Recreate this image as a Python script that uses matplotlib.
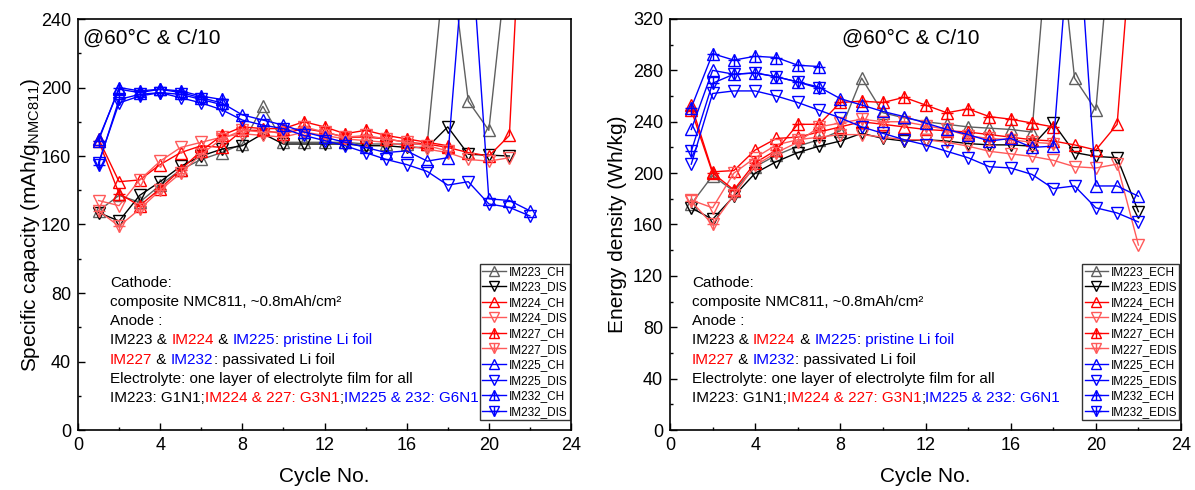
import matplotlib
matplotlib.use('Agg')
import matplotlib.pyplot as plt
from matplotlib.ticker import MultipleLocator

plt.rcParams['font.family'] = ['Liberation Sans', 'DejaVu Sans']
plt.rcParams['mathtext.fontset'] = 'custom'
plt.rcParams['mathtext.rm'] = 'Liberation Sans'
plt.rcParams['mathtext.it'] = 'Liberation Sans:italic'

# ---- data: left panel, specific capacity (mAh/g) ----
cyc_223 = list(range(1, 22))
cyc_224_ch = list(range(1, 23))
cyc_224_dis = list(range(1, 22))
cyc_227 = list(range(1, 19))
cyc_225 = list(range(1, 23))
cyc_232 = list(range(1, 8))

cap_223_ch = [128, 137, 133, 143, 152, 158, 162, 167, 189, 168, 168, 168, 168, 167, 167, 167, 167, 290, 192, 175, 286]
cap_223_dis = [127, 122, 137, 145, 154, 160, 164, 166, 173, 167, 167, 167, 167, 166, 166, 165, 165, 177, 161, 160.5, 160]
cap_224_ch = [170, 145, 146, 155, 162, 166, 165, 175, 175, 173, 176, 174, 171, 171, 170, 168, 167, 165, 162, 160, 172, 410]
cap_224_dis = [134, 131, 146, 157, 165, 168, 171, 173, 172, 171, 174, 172, 170, 169, 168, 166, 164, 162, 158, 157, 159]
cap_227_ch = [169, 138, 131, 141, 152, 163, 172, 177, 176, 176, 180, 177, 173, 175, 172, 170, 168, 166]
cap_227_dis = [128, 119, 129, 140, 150, 161, 170, 175, 174, 174, 177, 174, 171, 172, 170, 168, 166, 163]
cap_225_ch = [170, 199, 197, 199, 197, 194, 191, 184, 181, 178, 174, 171, 168, 165, 162, 163, 157, 159, 308, 135, 134, 128]
cap_225_dis = [156, 191, 195, 197, 194, 191, 187, 181, 178, 176, 172, 169, 166, 162, 158, 155, 151, 143, 145, 132, 130, 125]
cap_232_ch = [169, 200, 198, 199, 198, 195, 193]
cap_232_dis = [155, 193, 196, 197, 196, 193, 190]

# ---- data: right panel, energy density (Wh/kg) ----
cyc_223_ech = list(range(1, 22))
cyc_223_edis = list(range(1, 23))
cyc_224 = list(range(1, 23))

en_223_ch = [176, 198, 186, 205, 214, 221, 226, 233, 274, 247, 243, 240, 238, 236, 235, 234, 232, 430, 274, 249, 440]
en_223_dis = [173, 164, 182, 200, 209, 216, 221, 225, 231, 227, 225, 226, 225, 223, 222, 222, 221, 239, 216, 213, 212, 170]
en_224_ch = [253, 201, 202, 218, 227, 228, 232, 236, 240, 238, 236, 234, 233, 232, 230, 228, 226, 225, 222, 218, 238, 450]
en_224_dis = [179, 173, 200, 212, 222, 226, 228, 230, 230, 228, 226, 226, 224, 221, 217, 215, 213, 210, 205, 204, 207, 144]
en_227_ch = [249, 200, 187, 208, 218, 238, 238, 255, 256, 255, 259, 253, 247, 250, 244, 242, 239, 236]
en_227_dis = [178, 160, 183, 206, 216, 224, 236, 239, 242, 240, 240, 237, 234, 229, 227, 226, 224, 223]
en_225_ch = [234, 280, 277, 278, 275, 271, 267, 258, 253, 248, 244, 239, 234, 230, 225, 227, 220, 221, 435, 190, 190, 182]
en_225_dis = [207, 262, 264, 264, 260, 255, 249, 243, 236, 231, 226, 222, 217, 212, 205, 204, 199, 188, 190, 173, 169, 162]
en_232_ch = [251, 293, 288, 291, 290, 284, 283]
en_232_dis = [217, 270, 277, 278, 275, 271, 266]

GRAY, BLACK = '#5f5f5f', '#000000'
RED, LRED = '#ff0000', '#ff5a5a'
BLUE = '#0000ff'

fig = plt.figure(figsize=(11.95, 4.9), dpi=100)
ax1 = fig.add_axes([78 / 1195, 60 / 490, 493 / 1195, 411 / 490])
ax2 = fig.add_axes([670 / 1195, 60 / 490, 511 / 1195, 411 / 490])


def series(ax, x, y, color, marker, label, plus=False):
    ln, = ax.plot(x, y, color=color, marker=marker, ms=8, mfc='none', mew=1,
                  lw=1, label=label)
    if plus:
        pl, = ax.plot(x, y, ls='none', marker='+', ms=9, mew=1, color=color)
        return (ln, pl)
    return ln


def rainbow(ax, x, y, parts, size=11):
    t = ax.text(x, y, parts[0][0], color=parts[0][1], fontsize=size,
                transform=ax.transAxes, va='center', ha='left')
    for s, c in parts[1:]:
        t = ax.annotate(s, xy=(1, 0), xycoords=t, color=c, fontsize=size,
                        va='bottom', ha='left')


def dress(ax, ymax, ylabel, label_x, x_text, legend_labels, handles):
    ax.set_xlim(0, 24)
    ax.set_ylim(0, ymax)
    ax.xaxis.set_major_locator(MultipleLocator(4))
    ax.xaxis.set_minor_locator(MultipleLocator(2))
    ax.yaxis.set_major_locator(MultipleLocator(40))
    ax.yaxis.set_minor_locator(MultipleLocator(20))
    ax.tick_params(which='both', direction='in', top=False, right=False,
                   labelsize=13, width=1)
    ax.tick_params(which='major', length=5, pad=5)
    ax.tick_params(which='minor', length=2.5)
    for sp in ax.spines.values():
        sp.set_linewidth(1.2)
    ax.set_xlabel('Cycle No.', fontsize=15)
    ax.xaxis.set_label_coords(0.5, -0.09)
    ax.set_ylabel(ylabel, fontsize=15)
    ax.yaxis.set_label_coords(label_x, 0.5)
    ax.text(x_text, 0.954, '@60°C & C/10', transform=ax.transAxes,
            fontsize=15, va='center', ha='left')
    leg = ax.legend(handles, legend_labels, loc='lower right',
                    bbox_to_anchor=(0.997, 0.024), fontsize=8.5,
                    frameon=True, fancybox=False, edgecolor='black',
                    borderpad=0.2, labelspacing=0.3, handlelength=2.0,
                    handletextpad=0.2, borderaxespad=0, markerscale=0.85)
    leg.get_frame().set_linewidth(1)


def notes(ax, x0):
    ys = [0.358 - i * 0.0467 for i in range(7)]
    K = 'black'
    rainbow(ax, x0, ys[0], [('Cathode:', K)])
    rainbow(ax, x0, ys[1], [('composite NMC811, ~0.8mAh/cm²', K)])
    rainbow(ax, x0, ys[2], [('Anode :', K)])
    rainbow(ax, x0, ys[3], [('IM223 & ', K), ('IM224', RED), (' & ', K),
                            ('IM225', BLUE), (':', K), (' pristine Li foil', BLUE)])
    rainbow(ax, x0, ys[4], [('IM227', RED), (' & ', K), ('IM232', BLUE),
                            (': passivated Li foil', K)])
    rainbow(ax, x0, ys[5], [('Electrolyte: one layer of electrolyte film for all', K)])
    rainbow(ax, x0, ys[6], [('IM223: G1N1;', K), ('IM224 & 227: G3N1', RED),
                            (';', K), ('IM225 & 232: G6N1', BLUE)])


# left panel
h1 = [
    series(ax1, cyc_223, cap_223_ch, GRAY, '^', 'IM223_CH'),
    series(ax1, cyc_223, cap_223_dis, BLACK, 'v', 'IM223_DIS'),
    series(ax1, cyc_224_ch, cap_224_ch, RED, '^', 'IM224_CH'),
    series(ax1, cyc_224_dis, cap_224_dis, LRED, 'v', 'IM224_DIS'),
    series(ax1, cyc_227, cap_227_ch, RED, '^', 'IM227_CH', plus=True),
    series(ax1, cyc_227, cap_227_dis, LRED, 'v', 'IM227_DIS', plus=True),
    series(ax1, cyc_225, cap_225_ch, BLUE, '^', 'IM225_CH'),
    series(ax1, cyc_225, cap_225_dis, BLUE, 'v', 'IM225_DIS'),
    series(ax1, cyc_232, cap_232_ch, BLUE, '^', 'IM232_CH', plus=True),
    series(ax1, cyc_232, cap_232_dis, BLUE, 'v', 'IM232_DIS', plus=True),
]
labels1 = ['IM223_CH', 'IM223_DIS', 'IM224_CH', 'IM224_DIS', 'IM227_CH',
           'IM227_DIS', 'IM225_CH', 'IM225_DIS', 'IM232_CH', 'IM232_DIS']
dress(ax1, 240, 'Specific capacity (mAh/g$_{\\mathrm{NMC811}}$)', -0.073, 0.01,
      labels1, h1)
notes(ax1, 0.065)

# right panel
h2 = [
    series(ax2, cyc_223_ech, en_223_ch, GRAY, '^', 'IM223_ECH'),
    series(ax2, cyc_223_edis, en_223_dis, BLACK, 'v', 'IM223_EDIS'),
    series(ax2, cyc_224, en_224_ch, RED, '^', 'IM224_ECH'),
    series(ax2, cyc_224, en_224_dis, LRED, 'v', 'IM224_EDIS'),
    series(ax2, cyc_227, en_227_ch, RED, '^', 'IM227_ECH', plus=True),
    series(ax2, cyc_227, en_227_dis, LRED, 'v', 'IM227_EDIS', plus=True),
    series(ax2, cyc_225, en_225_ch, BLUE, '^', 'IM225_ECH'),
    series(ax2, cyc_225, en_225_dis, BLUE, 'v', 'IM225_EDIS'),
    series(ax2, cyc_232, en_232_ch, BLUE, '^', 'IM232_ECH', plus=True),
    series(ax2, cyc_232, en_232_dis, BLUE, 'v', 'IM232_EDIS', plus=True),
]
labels2 = ['IM223_ECH', 'IM223_EDIS', 'IM224_ECH', 'IM224_EDIS', 'IM227_ECH',
           'IM227_EDIS', 'IM225_ECH', 'IM225_EDIS', 'IM232_ECH', 'IM232_EDIS']
dress(ax2, 320, 'Energy density (Wh/kg)', -0.084, 0.337, labels2, h2)
notes(ax2, 0.043)

fig.savefig('out.png', dpi=100)
